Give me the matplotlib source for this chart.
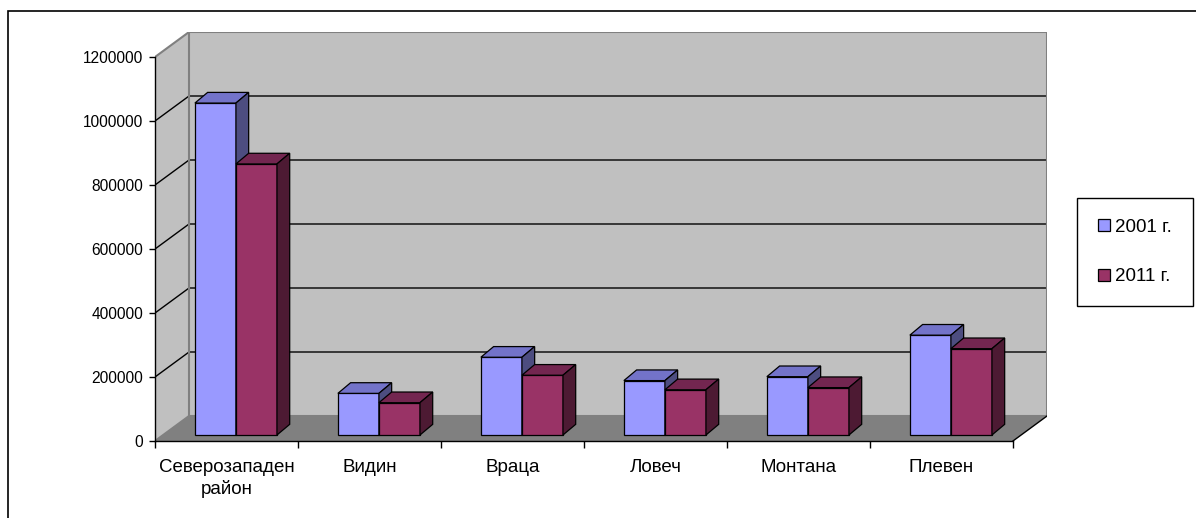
import matplotlib
matplotlib.use("Agg")
import matplotlib.pyplot as plt
from matplotlib.patches import Polygon, Rectangle

plt.rcParams['font.family'] = ['Liberation Sans', 'DejaVu Sans']

# данни
categories = ['Северозападен\nрайон', 'Видин', 'Враца', 'Ловеч', 'Монтана', 'Плевен']
v2001 = [1037300, 130100, 243000, 170000, 182300, 312000]
v2011 = [847100, 101000, 186800, 141400, 148100, 269800]
series_labels = ['2001 г.', '2011 г.']
y_ticks = [0, 200000, 400000, 600000, 800000, 1000000, 1200000]

# цветове (класическа палитра на Excel)
front_cols = ['#9999ff', '#993366']
top_cols = ['#7373c9', '#732650']
side_cols = ['#4d4d80', '#4d1a33']
wall_col = '#c0c0c0'
floor_col = '#808080'

# геометрия на псевдо-3D
ymax = y_ticks[-1]
n = len(categories)
wdx, wdy = 0.238, 78125      # дълбочина на стените
bdx, bdy = 0.089, 33300      # дълбочина на колоните
shift_x, shift_y = 0.066, 18750  # преден план на колоните
bar_w = 0.287

W, H = 1196, 518
fig = plt.figure(figsize=(W / 100, H / 100), dpi=100)
ax = fig.add_axes([155 / W, (H - 441) / H, 892 / W, 409 / H])
ax.set_xlim(0, n + wdx)
ax.set_ylim(0, ymax + wdy)
ax.patch.set_visible(False)
for s in ax.spines.values():
    s.set_visible(False)

# стени и под
ax.add_patch(Polygon([(0, 0), (wdx, wdy), (wdx, ymax + wdy), (0, ymax)],
                     fc=wall_col, ec='none', zorder=0))
ax.add_patch(Polygon([(wdx, wdy), (n + wdx, wdy), (n + wdx, ymax + wdy), (wdx, ymax + wdy)],
                     fc=wall_col, ec='none', zorder=0))
ax.add_patch(Polygon([(0, 0), (n, 0), (n + wdx, wdy), (wdx, wdy)],
                     fc=floor_col, ec='none', zorder=0))

# решетка
for v in y_ticks[1:-1]:
    ax.plot([0, wdx, n + wdx], [v, v + wdy, v + wdy], color='black', lw=1, zorder=1)
edge = dict(color='#808080', lw=1.5, zorder=1, solid_capstyle='butt')
ax.plot([0, wdx, n + wdx, n + wdx], [ymax, ymax + wdy, ymax + wdy, wdy], **edge)
ax.plot([wdx, wdx], [wdy, ymax + wdy], **edge)
ax.plot([0, wdx, n + wdx], [0, wdy, wdy], **edge)
ax.plot([n, n + wdx], [0, wdy], color='black', lw=1, zorder=1)

# оси
ax.plot([0, 0], [0, ymax], color='black', lw=1, zorder=2, clip_on=False)
ax.plot([0, n], [0, 0], color='black', lw=1, zorder=2, clip_on=False)

# колони
handles = []
for k, vals in enumerate([v2001, v2011]):
    xs = [i + 0.5 - bar_w + shift_x + k * bar_w for i in range(n)]
    bars = ax.bar(xs, vals, width=bar_w, bottom=shift_y, align='edge',
                  color=front_cols[k], edgecolor='black', lw=0.9, zorder=3,
                  label=series_labels[k])
    handles.append(bars)
    for x, v in zip(xs, vals):
        top = shift_y + v
        ax.add_patch(Polygon([(x, top), (x + bar_w, top), (x + bar_w + bdx, top + bdy), (x + bdx, top + bdy)],
                             fc=top_cols[k], ec='black', lw=0.9, zorder=3))
        ax.add_patch(Polygon([(x + bar_w, shift_y), (x + bar_w + bdx, shift_y + bdy),
                              (x + bar_w + bdx, top + bdy), (x + bar_w, top)],
                             fc=side_cols[k], ec='black', lw=0.9, zorder=3))

# деления и надписи
ax.set_yticks(y_ticks)
ax.set_yticklabels([str(t) for t in y_ticks], fontsize=11.2)
ax.set_xticks(range(n + 1))
ax.set_xticklabels([''] * (n + 1))
ax.set_xticks([i + 0.5 for i in range(n)], minor=True)
ax.set_xticklabels(categories, minor=True, fontsize=13.5, linespacing=1.3)
ax.tick_params(axis='y', direction='out', length=4.3, width=1, pad=4)
ax.tick_params(axis='x', which='major', direction='out', length=5, width=1)
ax.tick_params(axis='x', which='minor', length=0, pad=13)

# легенда
leg = fig.legend(handles=handles, labels=series_labels, loc='upper left',
                 bbox_to_anchor=(1077 / W, 1 - 198 / H), borderaxespad=0,
                 fontsize=13.5, frameon=True, fancybox=False, edgecolor='black',
                 framealpha=1, handlelength=0.65, handleheight=0.65,
                 handletextpad=0.3, labelspacing=1.75, borderpad=1.1)
leg.get_frame().set_linewidth(1)

# рамка на диаграмата
fig.patches.append(Rectangle((8 / W, -0.1), 1.2, 1.1 - 11 / H, transform=fig.transFigure,
                             fill=False, ec='black', lw=1.2))

fig.savefig('out.png', dpi=100, facecolor='white')
